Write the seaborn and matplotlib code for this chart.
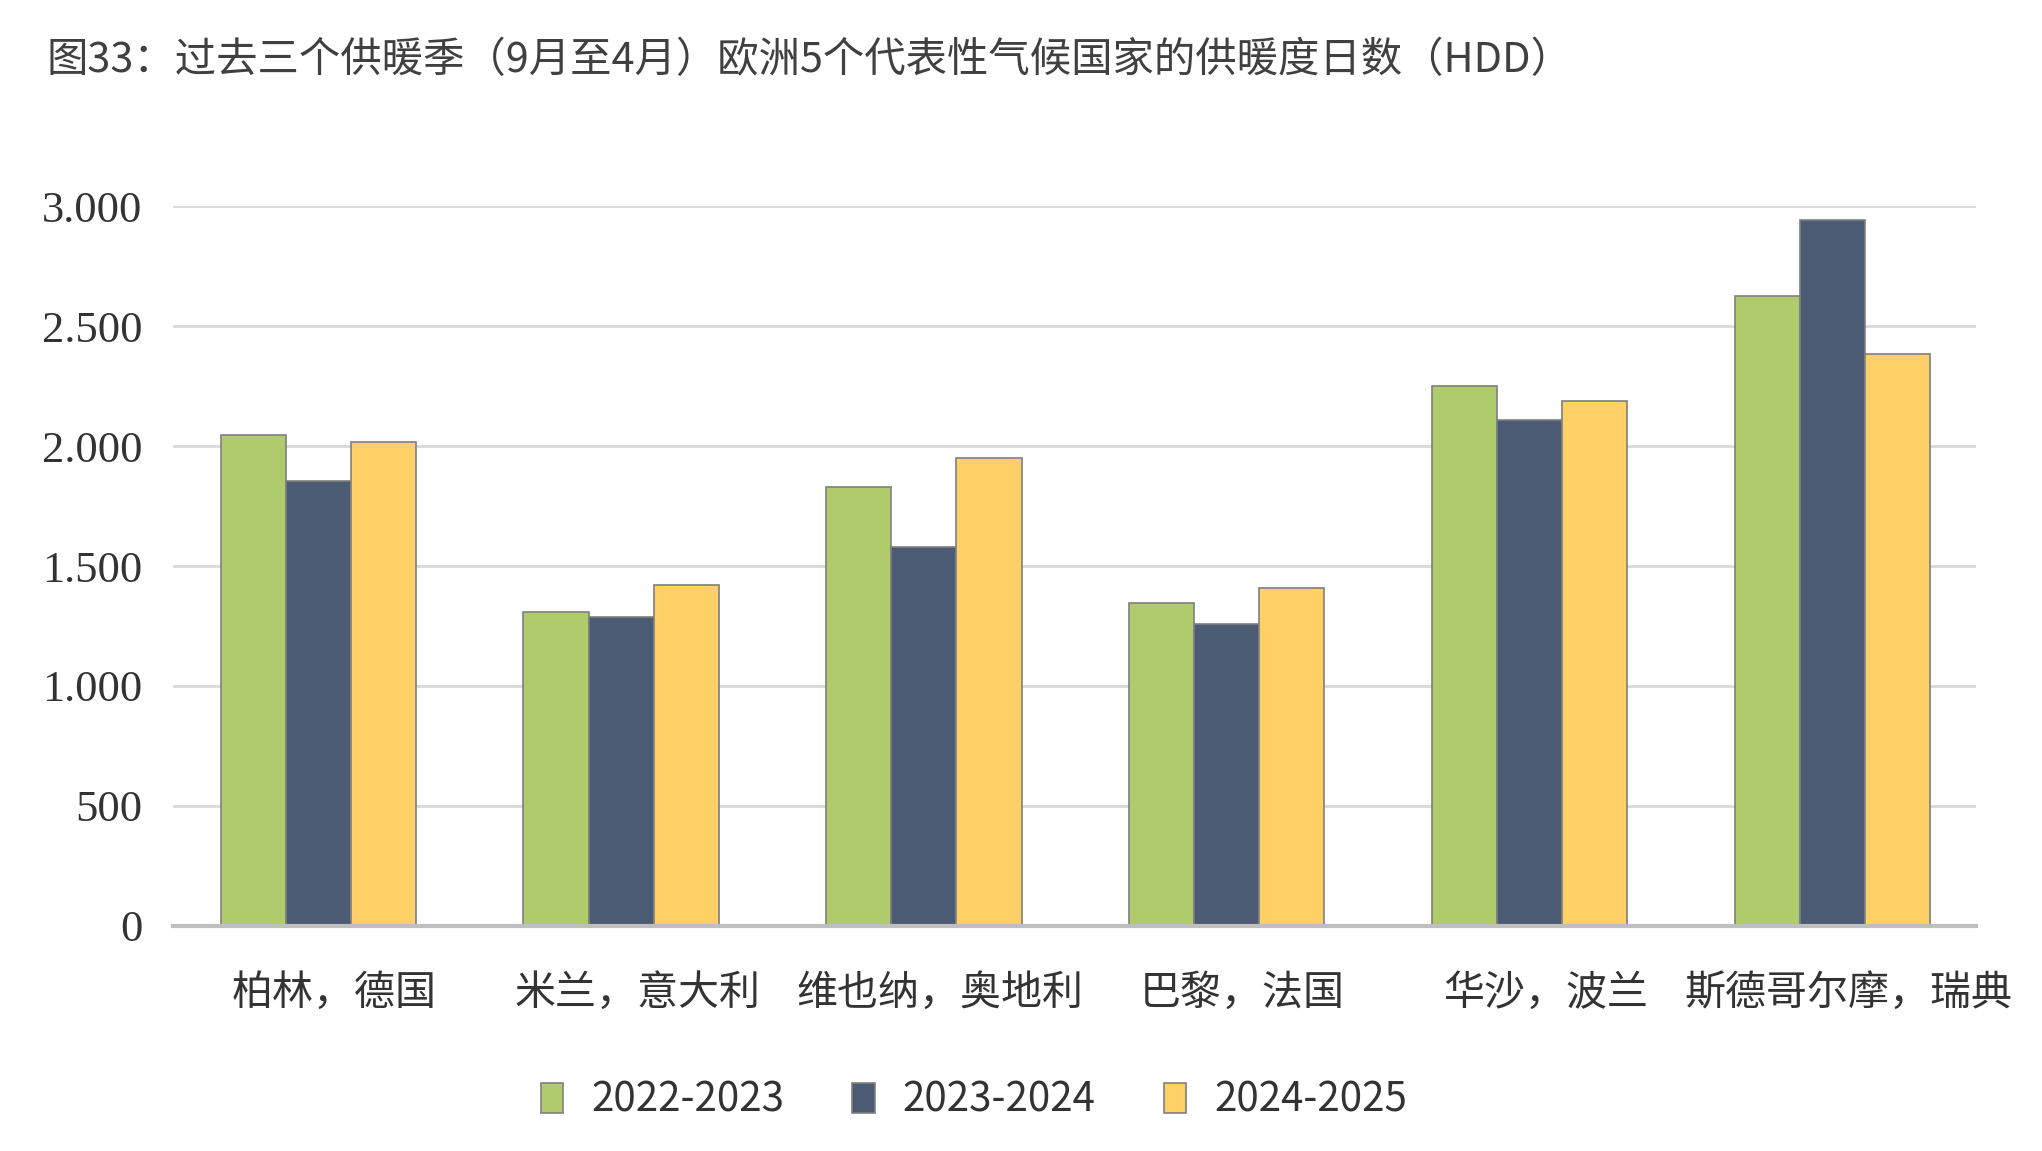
import pandas as pd
import seaborn as sns
import matplotlib.pyplot as plt
import matplotlib.transforms as mtransforms
from matplotlib.ticker import FuncFormatter, MultipleLocator

# --- data ---
cities = ["柏林，德国", "米兰，意大利", "维也纳，奥地利", "巴黎，法国", "华沙，波兰", "斯德哥尔摩，瑞典"]
seasons = ["2022-2023", "2023-2024", "2024-2025"]
hdd_2022_2023 = [2045, 1307, 1828, 1345, 2251, 2626]
hdd_2023_2024 = [1855, 1286, 1579, 1259, 2110, 2940]
hdd_2024_2025 = [2018, 1421, 1948, 1410, 2186, 2382]
colors = ["#AFCB6B", "#4A5B73", "#FED066"]

title = "图33：过去三个供暖季（9月至4月）欧洲5个代表性气候国家的供暖度日数（HDD）"

df = pd.DataFrame({
    "city": cities * 3,
    "season": [s for s in seasons for _ in cities],
    "hdd": hdd_2022_2023 + hdd_2023_2024 + hdd_2024_2025,
})

sns.set_theme(style="white")
plt.rcParams['font.family'] = ['Noto Sans CJK SC', 'DejaVu Sans']
text_color = "#333333"

fig = plt.figure(figsize=(20.42, 11.51), dpi=100)
ax = fig.add_axes([0.0847, 0.1955, 0.883, 0.6255])

sns.barplot(data=df, x="city", y="hdd", hue="season", order=cities, hue_order=seasons,
            palette=colors, width=0.645, edgecolor="#7F7F7F", linewidth=1.2,
            saturation=1, errorbar=None, ax=ax, legend=True)

ax.set_xlim(-0.48, 5.475)
ax.set_ylim(0, 3000)
ax.yaxis.set_major_locator(MultipleLocator(500))
ax.yaxis.set_major_formatter(FuncFormatter(lambda v, p: f"{int(v):,}".replace(",", ".")))
ax.grid(axis="y", color="#D9D9D9", linewidth=2)
ax.set_axisbelow(True)
for s in ["top", "right", "left"]:
    ax.spines[s].set_visible(False)
ax.spines["bottom"].set_color("#BFBFBF")
ax.spines["bottom"].set_linewidth(3)
ax.spines["bottom"].set_zorder(5)
ax.set_xlabel("")
ax.set_ylabel("")
ax.tick_params(axis="both", length=0)
ax.tick_params(axis="y", pad=22, labelsize=27, labelcolor=text_color)
ax.tick_params(axis="x", pad=34, labelsize=29.5, labelcolor=text_color)
for lab in ax.get_yticklabels():
    lab.set_family(["Liberation Serif", "DejaVu Serif"])
    lab.set_fontsize(32)
# labels sit a little right of the group centre in the original
shift = mtransforms.ScaledTranslation(0.16, 0, fig.dpi_scale_trans)
for lab in ax.get_xticklabels():
    lab.set_transform(lab.get_transform() + shift)

handles, labels = ax.get_legend_handles_labels()
ax.get_legend().remove()
fig.legend(handles, labels, loc="center", bbox_to_anchor=(0.477, 0.044), ncol=3,
           frameon=False, fontsize=29, handlelength=0.55, handleheight=0.75,
           handletextpad=0.7, columnspacing=1.7, labelcolor=text_color)

fig.text(0.023, 0.947, title, fontsize=29.8, color="#404040", ha="left", va="center")

fig.savefig("out.png", dpi=100)
plt.close(fig)
